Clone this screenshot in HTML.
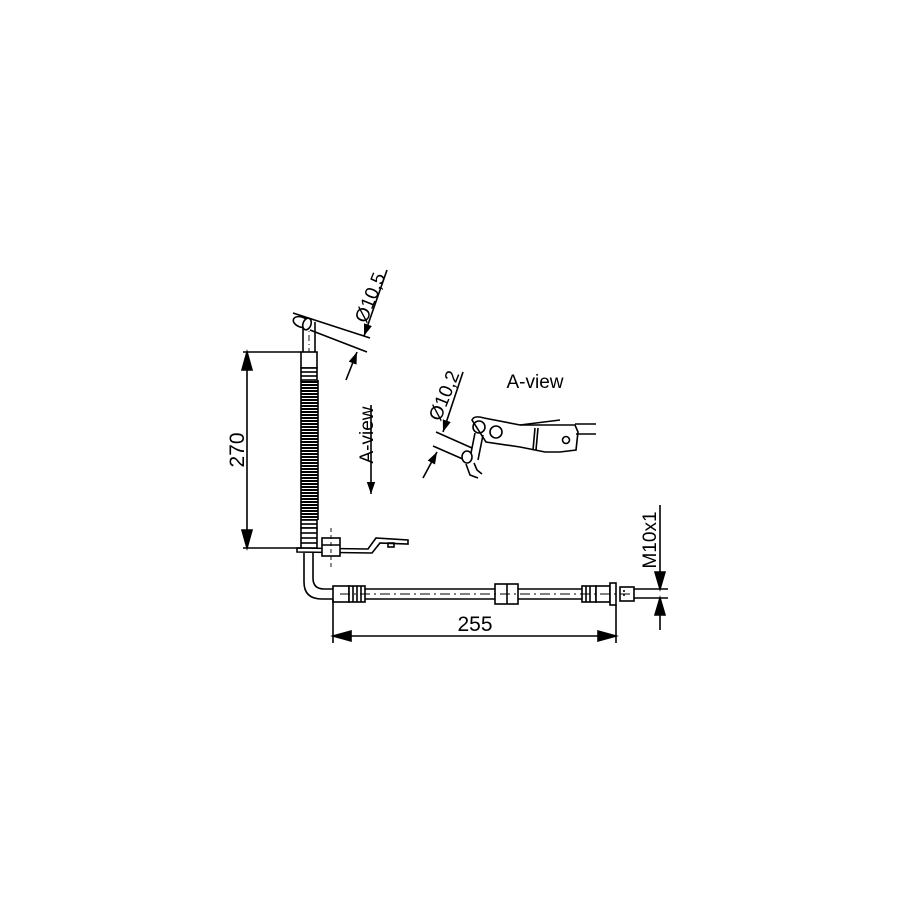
<!DOCTYPE html>
<html><head><meta charset="utf-8"><style>
html,body{margin:0;padding:0;background:#fff}
svg{display:block}
text{font-family:"Liberation Sans",sans-serif;fill:#000}
</style></head><body>
<svg width="915" height="915" viewBox="0 0 915 915" xmlns="http://www.w3.org/2000/svg">
<defs>
<pattern id="coil" x="0" y="0" width="20" height="3" patternUnits="userSpaceOnUse">
<rect x="0" y="0" width="20" height="2" fill="#000"/>
</pattern>
<marker id="ah" viewBox="0 0 10 10" refX="10" refY="5" markerWidth="12" markerHeight="12" markerUnits="userSpaceOnUse" orient="auto"><path d="M0,1.5 L10,5 L0,8.5 z" fill="#000"/></marker>
</defs>
<g stroke="#000" fill="none" stroke-width="1.6">
<line x1="303" y1="322" x2="303" y2="352"/>
<line x1="315" y1="322" x2="315" y2="352"/>
<line x1="309" y1="322" x2="309" y2="352" stroke-dasharray="6,3,1,3" stroke-width="0.9"/>
<ellipse cx="301" cy="322" rx="8" ry="5" transform="rotate(20 301 322)" fill="#fff"/>
<ellipse cx="307" cy="324" rx="4" ry="6" transform="rotate(20 307 324)" fill="#fff"/>
<rect x="301" y="352" width="16" height="16" fill="#fff"/>
<rect x="301" y="368" width="16" height="12" fill="#fff"/>
<line x1="301" y1="372" x2="317" y2="372"/><line x1="301" y1="376" x2="317" y2="376"/>
<rect x="301" y="380" width="17" height="140" fill="url(#coil)" stroke="none"/>
<line x1="301" y1="380" x2="301" y2="520"/><line x1="318" y1="380" x2="318" y2="520"/>
<rect x="301" y="520" width="16" height="8" fill="#fff"/>
<line x1="301" y1="524" x2="317" y2="524"/>
<rect x="301" y="528" width="16" height="20" fill="#fff"/>
<line x1="301" y1="533" x2="317" y2="533"/><line x1="301" y1="538" x2="317" y2="538"/><line x1="301" y1="543" x2="317" y2="543"/>
<path d="M297 548 L368 549 L376 538 L408 540 L408 544 L380 543 L372 553 L297 552 Z" fill="#fff"/>
<rect x="388" y="543" width="6" height="4"/>
<rect x="322" y="538" width="18" height="18" fill="#fff"/>
<line x1="322" y1="545" x2="340" y2="545"/>
<line x1="331" y1="528" x2="331" y2="570" stroke-dasharray="4,3" stroke-width="0.9"/>
<path d="M304 553 L304 582 Q304 599 322 599 L333 599"/>
<path d="M313 553 L313 578 Q313 589 324 589 L333 589"/>
<rect x="333" y="586" width="16" height="16" fill="#fff"/>
<rect x="349" y="586" width="16" height="16" fill="#fff"/>
<line x1="353" y1="586" x2="353" y2="602"/><line x1="357" y1="586" x2="357" y2="602"/><line x1="361" y1="586" x2="361" y2="602"/>
<line x1="365" y1="589" x2="495" y2="589"/><line x1="365" y1="599" x2="495" y2="599"/>
<rect x="495" y="584" width="23" height="20" fill="#fff"/>
<line x1="507" y1="584" x2="507" y2="604"/>
<line x1="518" y1="589" x2="582" y2="589"/><line x1="518" y1="599" x2="582" y2="599"/>
<rect x="582" y="586" width="14" height="16" fill="#fff"/>
<line x1="586" y1="586" x2="586" y2="602"/><line x1="590" y1="586" x2="590" y2="602"/>
<rect x="596" y="586" width="14" height="16" fill="#fff"/>
<rect x="610" y="583" width="6" height="22" fill="#fff"/>
<rect x="620" y="587" width="14" height="14" fill="#fff"/>
<line x1="624" y1="590" x2="624" y2="598" stroke-dasharray="2,2"/>
<line x1="634" y1="589" x2="668" y2="589"/><line x1="634" y1="598" x2="668" y2="598"/>
<line x1="340" y1="594" x2="630" y2="594" stroke-dasharray="10,4,2,4" stroke-width="0.9"/>
<line x1="243" y1="352" x2="301" y2="352"/>
<line x1="243" y1="548" x2="301" y2="548"/>
<line x1="247" y1="362" x2="247" y2="538"/>
<path d="M247 352 L242 370 L252 370 Z M247 548 L242 530 L252 530 Z" fill="#000"/>
<line x1="333" y1="600" x2="333" y2="643"/>
<line x1="616" y1="605" x2="616" y2="643"/>
<line x1="343" y1="636" x2="606" y2="636"/>
<path d="M333 636 L351 631 L351 641 Z M616 636 L598 631 L598 641 Z" fill="#000"/>
<line x1="660" y1="505" x2="660" y2="575"/>
<path d="M660 589 L655 572 L665 572 Z M660 598 L655 615 L665 615 Z" fill="#000"/>
<line x1="660" y1="612" x2="660" y2="630"/>
<line x1="293" y1="313" x2="370" y2="338"/>
<line x1="310" y1="330" x2="367" y2="352"/>
<line x1="387" y1="270" x2="364" y2="336" marker-end="url(#ah)"/>
<line x1="346" y1="380" x2="357" y2="352" marker-end="url(#ah)"/>
<line x1="371" y1="405" x2="371" y2="494" marker-end="url(#ah)"/>
<line x1="463" y1="372" x2="443" y2="432" marker-end="url(#ah)"/>
<line x1="436" y1="432" x2="472" y2="448"/>
<line x1="433" y1="446" x2="465" y2="460"/>
<line x1="423" y1="478" x2="437" y2="452" marker-end="url(#ah)"/>
<path d="M472 420 Q474 415 484 418 L520 425 L575 425 L578 432 L576 450 L560 452 L545 452 L520 447 L486 442 Z" fill="#fff"/>
<line x1="575" y1="424" x2="596" y2="424"/><line x1="576" y1="434" x2="596" y2="434"/>
<line x1="520" y1="425" x2="560" y2="420"/>
<circle cx="479" cy="427" r="6"/>
<circle cx="496" cy="432" r="6"/>
<circle cx="566" cy="440" r="3.5"/>
<line x1="535" y1="428" x2="533" y2="450"/><line x1="538" y1="428" x2="536" y2="450"/>
<path d="M475 433 L470 458 M483 435 L478 460"/>
<ellipse cx="467" cy="457" rx="5" ry="6" fill="#fff"/>
<path d="M466 464 L470 475 L478 478 M474 463 L477 470 L482 474"/>
</g>
<text x="0" y="0" font-size="21" text-anchor="middle" transform="translate(244 450) rotate(-90)">270</text>
<text x="475" y="631" font-size="21" text-anchor="middle">255</text>
<text x="0" y="0" font-size="19" text-anchor="middle" transform="translate(656 540) rotate(-90)">M10x1</text>
<text x="0" y="0" font-size="19" text-anchor="middle" transform="translate(373 435) rotate(-90)">A-view</text>
<text x="0" y="0" font-size="19" text-anchor="middle" transform="translate(376 300) rotate(-68)">Ø10,5</text>
<text x="0" y="0" font-size="19" text-anchor="middle" transform="translate(450 398) rotate(-68)">Ø10,2</text>
<text x="535" y="388" font-size="19" text-anchor="middle">A-view</text>
</svg>
</body></html>
